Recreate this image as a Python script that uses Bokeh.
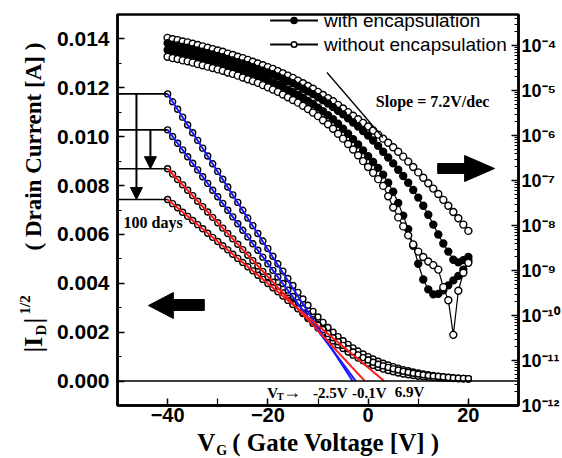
import math
from bokeh.plotting import figure
from bokeh.layouts import row, column
from bokeh.models import (Range1d, LogScale, LogAxis, FixedTicker, PrintfTickFormatter,
                          Label, Span, Arrow, NormalHead)
from bokeh.core.properties import value
from bokeh.embed import file_html
from bokeh.resources import INLINE

# ---------------- data ----------------
VG = [-40, -39, -38, -37, -36, -35, -34, -33, -32, -31, -30, -29, -28, -27, -26, -25, -24, -23, -22, -21,
      -20, -19, -18, -17, -16, -15, -14, -13, -12, -11, -10, -9, -8, -7, -6, -5, -4, -3, -2, -1,
      0, 1, 2, 3, 4, 5, 6, 7, 8, 9, 10, 11, 12, 13, 14, 15, 16, 17, 18, 19, 20]

# sqrt(|ID|) curves [A^1/2]
SQRT_1 = [.01175, .01143, .01112, .01080, .01048, .01016, .00985, .00953, .00921, .00889, .00858, .00826,
          .00794, .00762, .00731, .00699, .00667, .00636, .00604, .00573, .00542, .00511, .00480, .00450,
          .00420, .00391, .00363, .00336, .00310, .00285, .00262, .00240, .00219, .00200, .00182, .00165,
          .00150, .00136, .00123, .00111, .00100, .00090, .00081, .00073, .00066, .00059, .00053, .00047,
          .00042, .00037, .00033, .00029, .00026, .00023, .00020, .00018, .00016, .00014, .00012, .00011, .00010]
SQRT_2 = [.01028, .01001, .00973, .00946, .00918, .00891, .00864, .00836, .00809, .00781, .00754, .00727,
          .00699, .00672, .00644, .00617, .00590, .00562, .00535, .00507, .00480, .00453, .00426, .00399,
          .00372, .00346, .00321, .00297, .00274, .00252, .00231, .00211, .00193, .00176, .00160, .00145,
          .00131, .00118, .00106, .00095, .00085, .00076, .00068, .00061, .00054, .00048, .00043, .00038,
          .00034, .00030, .00027, .00024, .00021, .00019, .00017, .00015, .00013, .00012, .00011, .00010, .00009]
SQRT_3 = [.00869, .00847, .00825, .00803, .00781, .00759, .00736, .00714, .00692, .00670, .00648, .00626,
          .00604, .00582, .00560, .00538, .00515, .00493, .00471, .00449, .00427, .00405, .00383, .00361,
          .00339, .00318, .00297, .00276, .00256, .00236, .00217, .00199, .00181, .00164, .00148, .00133,
          .00119, .00106, .00094, .00083, .00073, .00064, .00056, .00049, .00043, .00038, .00033, .00029,
          .00026, .00023, .00020, .00018, .00016, .00014, .00013, .00012, .00011, .00010, .00009, .00008, .00008]
SQRT_4 = [.00743, .00726, .00709, .00691, .00674, .00657, .00640, .00623, .00605, .00588, .00571, .00554,
          .00537, .00519, .00502, .00485, .00468, .00451, .00433, .00416, .00399, .00382, .00365, .00348,
          .00330, .00313, .00296, .00279, .00262, .00245, .00228, .00211, .00194, .00177, .00161, .00146,
          .00132, .00119, .00107, .00096, .00086, .00077, .00069, .00062, .00056, .00050, .00045, .00040,
          .00036, .00032, .00029, .00026, .00023, .00021, .00019, .00017, .00015, .00013, .00012, .00011, .00010]

# log10(|ID| [A]) curves
LOG_A_OPEN = [-3.83, -3.86, -3.88, -3.91, -3.93, -3.96, -3.99, -4.02, -4.05, -4.08, -4.11, -4.14, -4.18, -4.21,
              -4.25, -4.28, -4.32, -4.36, -4.40, -4.44, -4.48, -4.52, -4.57, -4.62, -4.67, -4.72, -4.78, -4.84,
              -4.90, -4.96, -5.03, -5.10, -5.17, -5.24, -5.32, -5.40, -5.48, -5.56, -5.64, -5.72, -5.80, -5.89,
              -5.98, -6.07, -6.16, -6.26, -6.36, -6.47, -6.58, -6.70, -6.82, -6.94, -7.06, -7.18, -7.30, -7.43,
              -7.56, -7.70, -7.84, -7.98, -8.12]
LOG_B_FILLED = [-3.95, -3.98, -4.00, -4.03, -4.05, -4.08, -4.11, -4.14, -4.17, -4.20, -4.23, -4.26, -4.30, -4.33,
                -4.37, -4.40, -4.44, -4.48, -4.52, -4.56, -4.60, -4.64, -4.69, -4.74, -4.79, -4.84, -4.90, -4.96,
                -5.02, -5.08, -5.15, -5.22, -5.29, -5.37, -5.45, -5.53, -5.62, -5.71, -5.80, -5.90, -6.00, -6.11,
                -6.23, -6.36, -6.49, -6.62, -6.76, -6.90, -7.05, -7.21, -7.38, -7.56, -7.76, -7.98, -8.20, -8.40,
                -8.58, -8.76, -8.82, -8.77, -8.70]
LOG_C_FILLED = [-4.10, -4.13, -4.15, -4.18, -4.20, -4.23, -4.26, -4.29, -4.32, -4.35, -4.38, -4.41, -4.45, -4.48,
                -4.52, -4.56, -4.60, -4.64, -4.68, -4.72, -4.77, -4.82, -4.87, -4.92, -4.98, -5.04, -5.10, -5.16,
                -5.23, -5.30, -5.38, -5.46, -5.55, -5.64, -5.74, -5.85, -5.96, -6.08, -6.20, -6.33, -6.46, -6.59,
                -6.72, -6.87, -7.05, -7.25, -7.50, -7.78, -8.08, -8.45, -8.85, -9.20, -9.42, -9.53, -9.52, -9.44,
                -9.33, -9.22, -9.12, -8.98, -8.77]
LOG_D_OPEN = [-4.25, -4.28, -4.30, -4.33, -4.35, -4.38, -4.41, -4.44, -4.47, -4.50, -4.53, -4.56, -4.60, -4.63,
              -4.67, -4.71, -4.75, -4.79, -4.83, -4.88, -4.93, -4.98, -5.03, -5.09, -5.15, -5.21, -5.27, -5.34,
              -5.41, -5.49, -5.57, -5.66, -5.75, -5.85, -5.96, -6.07, -6.19, -6.31, -6.44, -6.57, -6.70, -6.83,
              -6.97, -7.12, -7.35, -7.60, -7.82, -8.02, -8.22, -8.42, -8.58, -8.70, -8.80, -8.88, -8.98, -9.37,
              -9.66, -10.43, -9.45, -9.05, -8.83]

FIT_START_V = -40
FIT_V0 = [0.01175, 0.01028, 0.00869, 0.00743]
FIT_VT = [-3.1, -2.45, -0.64, 3.2]
FIT_COLORS = ["#1a1aff", "#1a1aff", "#ff1a1a", "#ff1a1a"]
VT_LABELS = ["-2.5V", "-0.1V", "6.9V"]
LEFT_TICKS = [0.0, 0.002, 0.004, 0.006, 0.008, 0.010, 0.012, 0.014]
X_TICKS = [-40, -20, 0, 20]
DECADES = [-12, -11, -10, -9, -8, -7, -6, -5, -4]
LEGEND_LABELS = ["with encapsulation", "without encapsulation"]

# ---------------- geometry (global page pixels) ----------------
W, H = 562, 458
YT_W = 52            # left strip with the y title
XT_H = 28            # bottom strip with the x title
FX0, FX1, FY0, FY1 = 117, 519, 14, 405
X0, X1 = -50, 30
Y0, Y1 = -0.001, 0.015
DEC_PX = 45.0
LOG_TOP = 10 ** (-12 + (FY1 - FY0) / DEC_PX)


def dx(px):
    return X0 + (px - FX0) * (X1 - X0) / (FX1 - FX0)


def dy(py):
    return Y0 + (FY1 - py) * (Y1 - Y0) / (FY1 - FY0)


def dl(py):
    return 10 ** (-12 + (FY1 - py) / DEC_PX)


SANS = "Liberation Sans"
SERIF = "Liberation Serif"

p = figure(width=W - YT_W, height=H - XT_H, x_range=Range1d(X0, X1), y_range=Range1d(Y0, Y1),
           output_backend="svg", toolbar_location=None,
           min_border_left=FX0 - YT_W, min_border_right=W - FX1, min_border_top=FY0,
           min_border_bottom=H - XT_H - FY1)
p.extra_y_ranges = {"log": Range1d(1e-12, LOG_TOP)}
p.extra_y_scales = {"log": LogScale()}
p.grid.visible = False
p.outline_line_color = "black"
p.outline_line_width = 2.5
p.background_fill_color = "white"
p.border_fill_color = "white"


def style_axis(ax, label_size="20px"):
    ax.axis_line_color = "black"
    ax.axis_line_width = 2.5
    ax.major_tick_line_width = 1.5
    ax.minor_tick_line_width = 1.2
    ax.major_tick_in = 7
    ax.major_tick_out = 0
    ax.minor_tick_in = 4
    ax.minor_tick_out = 0
    ax.major_label_text_font = SANS
    ax.major_label_text_font_style = "bold"
    ax.major_label_text_font_size = label_size
    ax.major_label_text_color = "black"


xa = p.xaxis[0]
xa.ticker = FixedTicker(ticks=X_TICKS, minor_ticks=[-30, -10, 10])
style_axis(xa)
xa.minor_tick_in = 7
xa.major_label_standoff = 2

ya = p.yaxis[0]
ya.ticker = FixedTicker(ticks=LEFT_TICKS, minor_ticks=[0.001, 0.003, 0.005, 0.007, 0.009, 0.011, 0.013])
ya.formatter = PrintfTickFormatter(format="%.3f")
style_axis(ya, "21px")
ya.major_label_standoff = 8

SUP = {"-": "\u207b", "0": "\u2070", "1": "\u00b9", "2": "\u00b2", "3": "\u00b3", "4": "\u2074",
       "5": "\u2075", "6": "\u2076", "7": "\u2077", "8": "\u2078", "9": "\u2079"}
dec_vals = [float("1e%d" % d) for d in DECADES]
minor_log = [k * v for v in dec_vals[:-1] for k in range(2, 10)] + [k * dec_vals[-1] for k in range(2, 6)]
ra = LogAxis(y_range_name="log", ticker=FixedTicker(ticks=dec_vals, minor_ticks=minor_log),
             formatter=PrintfTickFormatter(format="%e"))
style_axis(ra, "18px")
ra.major_label_standoff = 3
ra.major_label_overrides = {v: "10" + "".join(SUP[c] for c in str(d)) for v, d in zip(dec_vals, DECADES)}
p.add_layout(ra, "right")

# zero line
p.add_layout(Span(location=0, dimension="width", line_color="black", line_width=1.5))

# ---------------- log curves (right axis) ----------------
for logs, filled in [(LOG_A_OPEN, False), (LOG_B_FILLED, True), (LOG_C_FILLED, True), (LOG_D_OPEN, False)]:
    ids = [10.0 ** v for v in logs]
    p.line(VG, ids, y_range_name="log", line_color="black", line_width=1.2)
    p.scatter(VG, ids, y_range_name="log", marker="circle", size=7,
              fill_color="black" if filled else "white", line_color="black", line_width=1.4)

# ---------------- sqrt curves (left axis) ----------------
for ys in [SQRT_1, SQRT_2, SQRT_3, SQRT_4]:
    p.line(VG, ys, line_color="black", line_width=1.2)
    p.scatter(VG, ys, marker="circle", size=6, fill_color="white", line_color="black", line_width=1.4)

# fit lines
for v0, vt, c in zip(FIT_V0, FIT_VT, FIT_COLORS):
    p.line([FIT_START_V, vt], [v0, 0.0], line_color=c, line_width=2)

# bracket lines + arrows (100 days)
p.segment(x0=[X0] * 4, y0=FIT_V0, x1=[FIT_START_V] * 4, y1=FIT_V0, line_color="black", line_width=1.6)
p.add_layout(Arrow(end=NormalHead(size=12, fill_color="black", line_color="black"),
                   x_start=dx(136), y_start=FIT_V0[0], x_end=dx(136), y_end=FIT_V0[3],
                   line_color="black", line_width=2))
p.add_layout(Arrow(end=NormalHead(size=12, fill_color="black", line_color="black"),
                   x_start=dx(150), y_start=FIT_V0[1], x_end=dx(150), y_end=FIT_V0[2],
                   line_color="black", line_width=2))

# big arrows
p.patch([dx(148), dx(173), dx(173), dx(204), dx(204), dx(173), dx(173)],
        [dy(305), dy(292), dy(299), dy(299), dy(310), dy(310), dy(318)], color="black")
p.patch([dx(495), dx(465), dx(465), dx(438), dx(438), dx(465), dx(465)],
        [dy(168), dy(155), dy(163), dy(163), dy(173), dy(173), dy(181)], color="black")

# slope line
p.line([dx(327), dx(383)], [dl(72), dl(137)], y_range_name="log", line_color="black", line_width=1.3)

# ---------------- legend ----------------
for i, (lab_text, filled) in enumerate(zip(LEGEND_LABELS, [True, False])):
    py = 20 + i * 24
    p.line([dx(270), dx(318)], [dy(py), dy(py)], line_color="black", line_width=2)
    p.scatter([dx(294)], [dy(py)], marker="circle", size=6 if filled else 5.5,
              fill_color="black" if filled else "white", line_color="black", line_width=1.5)
    p.add_layout(Label(x=dx(324), y=dy(py), text=lab_text, text_font=SANS, text_font_size="19px",
                       text_baseline="middle", text_align="left", text_color="black"))


def lab(px, py, text, size, font=SERIF, style="bold"):
    p.add_layout(Label(x=dx(px), y=dy(py), text=text, text_font=font, text_font_size=size,
                       text_font_style=style, text_align="left", text_baseline="middle",
                       text_color="black"))


lab(376, 101, "Slope = 7.2V/dec", "16px")
lab(123, 222, "100 days", "16px")

# V_T labels
lab(267, 392, "V", "15px")
lab(277, 396, "T", "10px")
lab(283, 391, "\u2192", "18px")
lab(313, 392, VT_LABELS[0], "15px")
lab(352, 392, VT_LABELS[1], "15px")
lab(395, 391, VT_LABELS[2], "15px")


# ---------------- title strips ----------------
def strip(w, h, x_lo, x_hi, y_top, border_l=0, border_r=0):
    f = figure(width=w, height=h, x_range=Range1d(x_lo, x_hi), y_range=Range1d(y_top + h, y_top),
               output_backend="svg", toolbar_location=None, x_axis_location=None, y_axis_location=None,
               min_border_left=border_l, min_border_right=border_r, min_border_top=0, min_border_bottom=0)
    f.grid.visible = False
    f.outline_line_color = None
    f.background_fill_color = "white"
    f.border_fill_color = "white"
    return f


def stext(f, px, py, text, size, angle=0.0):
    f.text(x=[px], y=[py], text=[text], angle=angle, text_font=value(SERIF), text_font_style="bold",
           text_font_size=value(size), text_align="left", text_baseline="middle", text_color="black")


yt = strip(YT_W, H, 0, YT_W, 0)
R = math.pi / 2
stext(yt, 33, 352, "|I", "26px", R)
stext(yt, 40, 335, "D", "15px", R)
stext(yt, 33, 323, "|", "26px", R)
stext(yt, 24, 314, "1/2", "15px", R)
stext(yt, 33, 250, "( Drain Current [A] )", "23px", R)

# x-title strip: its frame is aligned with the main frame (117..519) by the column layout
xt = strip(W - YT_W, XT_H, FX0, FX1, H - XT_H, border_l=FX0 - YT_W, border_r=W - FX1)
stext(xt, 197, 442, "V", "25px")
stext(xt, 216, 450, "G", "14px")
stext(xt, 232, 442, "( Gate Voltage [V] )", "25px")

layout = row(yt, column(p, xt, spacing=0), spacing=0)
open("out.html", "w").write(file_html(layout, INLINE))
